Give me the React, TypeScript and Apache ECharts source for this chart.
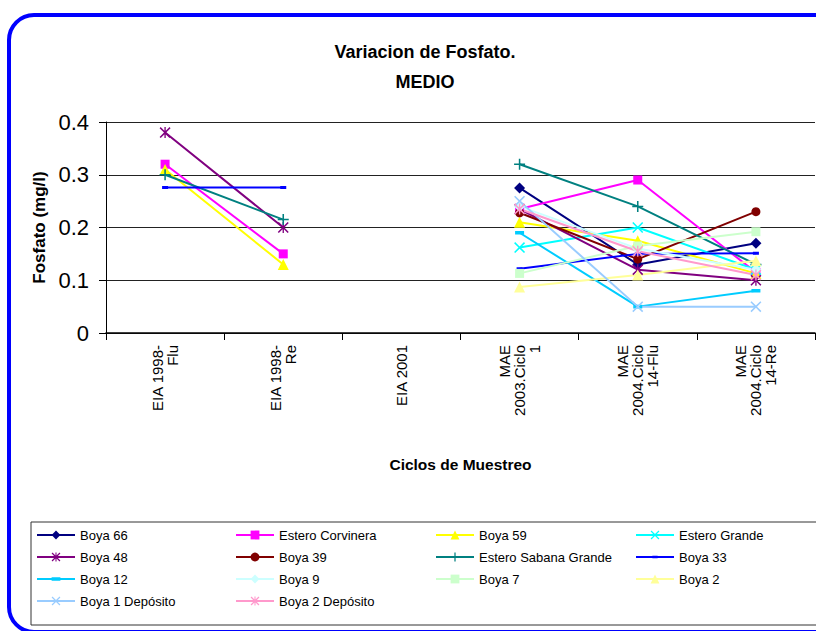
import React, { useEffect, useRef } from "react";
import * as echarts from "echarts";

const categories = [
  "EIA 1998-\nFlu",
  "EIA 1998-\nRe",
  "EIA 2001",
  "MAE\n2003.Ciclo\n1",
  "MAE\n2004.Ciclo\n14-Flu",
  "MAE\n2004.Ciclo\n14-Re",
];
const yTicks = [0, 0.1, 0.2, 0.3, 0.4];

const boya66 = [null, null, null, 0.275, 0.13, 0.17];
const esteroCorvinera = [0.32, 0.15, null, 0.235, 0.29, 0.115];
const boya59 = [0.31, 0.13, null, 0.21, 0.175, 0.113];
const esteroGrande = [null, null, null, 0.162, 0.2, 0.12];
const boya48 = [0.38, 0.2, null, 0.235, 0.12, 0.1];
const boya39 = [null, null, null, 0.228, 0.14, 0.23];
const esteroSabanaGrande = [0.3, 0.215, null, 0.32, 0.24, 0.13];
const boya33 = [0.276, 0.276, null, 0.122, 0.15, 0.151];
const boya12 = [null, null, null, 0.19, 0.05, 0.08];
const boya9 = [null, null, null, 0.24, 0.16, 0.12];
const boya7 = [null, null, null, 0.113, 0.165, 0.192];
const boya2 = [null, null, null, 0.087, 0.11, 0.137];
const boya1Deposito = [null, null, null, 0.25, 0.05, 0.05];
const boya2Deposito = [null, null, null, 0.235, 0.155, 0.11];

const X_PATH = "path://M0,1 L1,0 L5,4 L9,0 L10,1 L6,5 L10,9 L9,10 L5,6 L1,10 L0,9 L4,5 Z";
const PLUS_PATH = "path://M4.3,0 H5.7 V4.3 H10 V5.7 H5.7 V10 H4.3 V5.7 H0 V4.3 H4.3 Z";
const STAR_PATH =
  "path://M4.4,0 H5.6 V10 H4.4 Z M0,1 L1,0 L5,4 L9,0 L10,1 L6,5 L10,9 L9,10 L5,6 L1,10 L0,9 L4,5 Z";
// square bounding box (tiny invisible corner specks) with a thin bar in the middle
const DASH_SMALL =
  "path://M0,0 L0.01,0 L0,0.01 Z M10,10 L9.99,10 L10,9.99 Z M2,3.5 H8 V6.5 H2 Z";
const DASH = "path://M0,0 L0.01,0 L0,0.01 Z M10,10 L9.99,10 L10,9.99 Z M0,3 H10 V7 H0 Z";

const seriesDefs: any[] = [
  { name: "Boya 66", data: boya66, color: "#000080", symbol: "diamond", size: 11 },
  { name: "Estero Corvinera", data: esteroCorvinera, color: "#FF00FF", symbol: "rect", size: 9 },
  { name: "Boya 59", data: boya59, color: "#FFFF00", symbol: "triangle", size: 11 },
  { name: "Estero Grande", data: esteroGrande, color: "#00FFFF", symbol: X_PATH, size: 11 },
  { name: "Boya 48", data: boya48, color: "#800080", symbol: STAR_PATH, size: 11 },
  { name: "Boya 39", data: boya39, color: "#800000", symbol: "circle", size: 9 },
  { name: "Estero Sabana Grande", data: esteroSabanaGrande, color: "#008080", symbol: PLUS_PATH, size: 11 },
  { name: "Boya 33", data: boya33, color: "#0000FF", symbol: DASH_SMALL, size: 10 },
  { name: "Boya 12", data: boya12, color: "#00CCFF", symbol: DASH, size: 9 },
  { name: "Boya 9", data: boya9, color: "#CCFFFF", symbol: "diamond", size: 11 },
  { name: "Boya 7", data: boya7, color: "#CCFFCC", symbol: "rect", size: 9 },
  { name: "Boya 2", data: boya2, color: "#FFFF99", symbol: "triangle", size: 11 },
  { name: "Boya 1 Depósito", data: boya1Deposito, color: "#99CCFF", symbol: X_PATH, size: 11 },
  { name: "Boya 2 Depósito", data: boya2Deposito, color: "#FF99CC", symbol: STAR_PATH, size: 11 },
];

const legendCols = [
  ["Boya 66", "Boya 48", "Boya 12", "Boya 1 Depósito"],
  ["Estero Corvinera", "Boya 39", "Boya 9", "Boya 2 Depósito"],
  ["Boya 59", "Estero Sabana Grande", "Boya 7"],
  ["Estero Grande", "Boya 33", "Boya 2"],
];
const legendLefts = [36, 235, 435, 635];

const FONT = "'Liberation Sans', Arial, sans-serif";

export default function App() {
  const ref = useRef<HTMLDivElement>(null);
  useEffect(() => {
    if (!ref.current) return;
    const chart = echarts.init(ref.current, null, { renderer: "svg" });
    chart.setOption({
      animation: false,
      backgroundColor: "#ffffff",
      textStyle: { fontFamily: FONT },
      title: {
        text: "Variacion de Fosfato.\nMEDIO",
        left: 420,
        top: 32,
        textAlign: "center",
        textStyle: {
          fontFamily: FONT,
          fontSize: 18,
          fontWeight: "bold",
          color: "#000",
          lineHeight: 30,
        },
      },
      grid: { left: 106, right: 1, top: 122, bottom: 298, containLabel: false },
      xAxis: {
        type: "category",
        data: categories,
        boundaryGap: true,
        name: "Ciclos de Muestreo",
        nameLocation: "middle",
        nameGap: 123,
        nameTextStyle: { fontFamily: FONT, fontSize: 15.5, fontWeight: "bold", color: "#000" },
        axisLine: { lineStyle: { color: "#000", width: 1.5 } },
        axisTick: { show: true, inside: false, length: 7, lineStyle: { color: "#000" } },
        axisLabel: {
          rotate: 90,
          interval: 0,
          margin: 12,
          fontFamily: FONT,
          fontSize: 15,
          color: "#000",
          lineHeight: 15,
        },
        splitLine: { show: false },
      },
      yAxis: {
        type: "value",
        min: 0,
        max: 0.4,
        interval: 0.1,
        name: "Fosfato (mg/l)",
        nameLocation: "middle",
        nameGap: 51,
        nameRotate: 90,
        nameTextStyle: { fontFamily: FONT, fontSize: 17, fontWeight: "bold", color: "#000" },
        axisLine: { show: true, lineStyle: { color: "#000", width: 1 } },
        axisTick: { show: true, inside: false, length: 7, lineStyle: { color: "#000" } },
        axisLabel: {
          margin: 17,
          fontFamily: FONT,
          fontSize: 22,
          color: "#000",
          formatter: (v: number) => {
            const r = Math.round(v * 10) / 10;
            return r === 0 ? "0" : yTicks.includes(r) ? r.toFixed(1) : String(v);
          },
        },
        splitLine: { show: true, lineStyle: { color: "#222", width: 1 } },
      },
      legend: legendCols.map((col, i) => ({
        data: col,
        orient: "vertical",
        left: legendLefts[i],
        top: 528,
        padding: 0,
        itemWidth: 38,
        itemHeight: 11,
        itemGap: 8,
        itemTextGap: 4,
        selectedMode: false,
        textStyle: { fontFamily: FONT, fontSize: 13, color: "#000", lineHeight: 14 },
      })),
      graphic: [
        {
          type: "rect",
          silent: true,
          shape: { x: 31, y: 522, width: 800, height: 103 },
          style: { fill: "none", stroke: "#333", lineWidth: 1 },
        },
        {
          type: "rect",
          silent: true,
          z: 100,
          shape: { x: 9, y: 15, width: 850, height: 617, r: 25 },
          style: { fill: "none", stroke: "#0000FF", lineWidth: 4 },
        },
      ],
      series: seriesDefs.map((s) => ({
        name: s.name,
        type: "line",
        data: s.data,
        connectNulls: false,
        symbol: s.symbol,
        symbolSize: s.size,
        showSymbol: true,
        color: s.color,
        lineStyle: { color: s.color, width: 2 },
        itemStyle: { color: s.color, borderWidth: 0 },
        emphasis: { disabled: true },
      })),
    });
    return () => chart.dispose();
  }, []);
  return (
    <div
      ref={ref}
      style={{ position: "fixed", left: 0, top: 0, width: 816, height: 631 }}
    />
  );
}
